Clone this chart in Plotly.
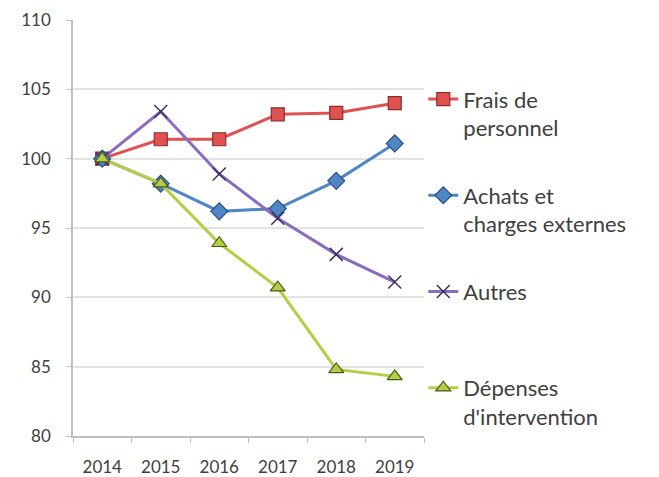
import plotly.graph_objects as go

years = ["2014", "2015", "2016", "2017", "2018", "2019"]
frais_personnel = [100, 101.4, 101.4, 103.2, 103.3, 104.0]
achats_charges = [100, 98.2, 96.2, 96.4, 98.4, 101.1]
autres = [100, 103.4, 98.9, 95.7, 93.1, 91.1]
depenses_intervention = [100, 98.2, 93.9, 90.7, 84.8, 84.3]

series = [
    ("Frais de<br>personnel", frais_personnel, "#e05252", "#8b2d2d", "square", 13),
    ("Achats et<br>charges externes", achats_charges, "#4f86c6", "#2c4f7c", "diamond", 13),
    ("Autres<br> ", autres, "#8a6cbf", "#3c3060", "x-thin", 13),
    ("Dépenses<br>d'intervention", depenses_intervention, "#b3cf45", "#4a5a1a", "triangle-up", 13),
]

FONT = "Lato, 'Open Sans', sans-serif"

fig = go.Figure()
for i, (name, vals, col, edge, sym, size) in enumerate(series):
    if sym == "x-thin":
        marker = dict(symbol=sym, size=size, line=dict(color=edge, width=1.5))
    else:
        marker = dict(symbol=sym, size=size, color=col, line=dict(color=edge, width=1.2))
    fig.add_trace(go.Scatter(
        x=years, y=vals,
        mode="lines+markers",
        name=name,
        legendgroup=f"g{i}",
        line=dict(color=col, width=3),
        marker=marker,
    ))

# the page body keeps its default 8px margin, so the figure is 8px smaller
fig.update_layout(
    width=651, height=469,
    margin=dict(l=65, r=235, t=12, b=41, autoexpand=False),
    paper_bgcolor="white",
    plot_bgcolor="white",
    font=dict(family=FONT, color="#404040"),
    showlegend=True,
    legend=dict(
        x=0.998, xanchor="left",
        y=0.86, yanchor="top",
        valign="top",
        traceorder="grouped",
        tracegroupgap=36,
        font=dict(size=22, color="#404040", family=FONT),
        bgcolor="rgba(0,0,0,0)",
    ),
)
fig.update_xaxes(
    type="category",
    range=[-0.5, 5.5],
    automargin=False,
    showgrid=False,
    showline=True, linecolor="#bfbfbf", linewidth=1.5,
    ticks="outside", tickson="boundaries", ticklen=5, tickcolor="#bfbfbf",
    tickfont=dict(size=17, color="#404040"),
    ticklabelstandoff=15,
)
fig.update_yaxes(
    range=[80, 110],
    dtick=5,
    automargin=False,
    showgrid=True, gridcolor="#e3e3e3", gridwidth=1.5,
    zeroline=False,
    showline=True, linecolor="#bfbfbf", linewidth=1.5,
    ticks="outside", ticklen=5, tickcolor="#bfbfbf",
    tickfont=dict(size=17, color="#404040"),
    ticklabelstandoff=12,
)

fig.write_html("out.html")
